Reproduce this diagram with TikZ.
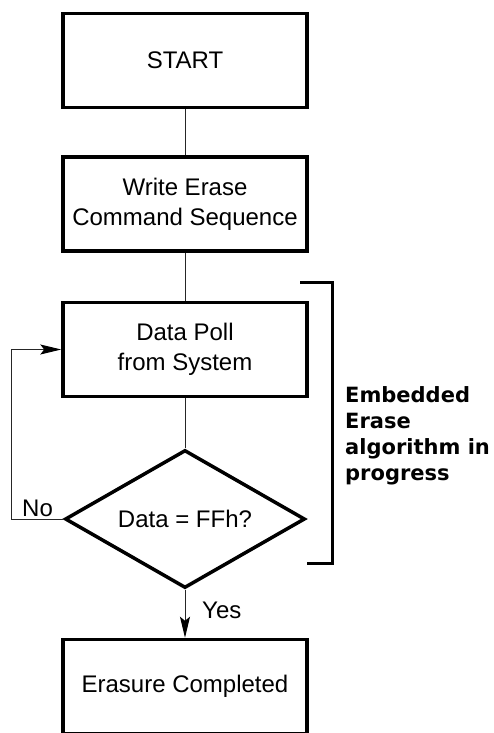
\documentclass[tikz,border=0pt]{standalone}
\usepackage{fontspec}
\setmainfont{Liberation Sans}
\newfontfamily\notefont{DejaVu Sans}
\usetikzlibrary{shapes.geometric,arrows.meta}

\begin{document}
\begin{tikzpicture}[x=1pt, y=-1pt,
	box/.style={draw, line width=3.5pt, minimum width=244pt, minimum height=94pt, align=center, font=\fontsize{24}{30}\selectfont},
	test/.style={draw, diamond, line width=3.5pt, minimum width=240pt, minimum height=138pt, aspect=1.7, inner sep=0pt, font=\fontsize{24}{30}\selectfont},
	link/.style={draw=black!85, line width=1pt},
	flow/.style={link, -{Stealth[length=21pt, width=10pt, inset=4pt, black]}},
	lbl/.style={inner sep=0pt, font=\fontsize{24}{30}\selectfont},
	note/.style={inner sep=0pt, align=left, font=\notefont\bfseries\fontsize{21}{26}\selectfont}]
	\clip (0,0) rectangle (493,733);
	\fill[white] (0,0) rectangle (493,733);

	\node[box] (1) at (185, 60.5)	{START};
	\node[box] (2) at (185, 204)	{Write Erase\\Command Sequence};
	\node[box] (3) at (185, 349.5)	{Data Poll\\from System};
	\node[test] (4) at (185, 519)	{Data = FFh?};
	\node[box] (5) at (185, 686.5)	{Erasure Completed};

	\draw[link] (1) -- (2);
	\draw[link] (2) -- (3);
	\draw[link] (3) -- (4);
	\draw[flow] (4.west) -- ++(-52,0) |- (3.west);
	\draw[flow] (4.south) -- (5.north);

	\node[lbl, anchor=base west] (no) at (22, 516)		{No};
	\node[lbl, anchor=base west] (yes) at (202, 618)	{Yes};

	\draw[line width=3pt] (300,282) -- (332,282) -- (332,563) -- (307,563);
	\node[note, anchor=north west] (6) at (345, 386)	{Embedded\\Erase\\algorithm in\\progress};
\end{tikzpicture}
\end{document}
